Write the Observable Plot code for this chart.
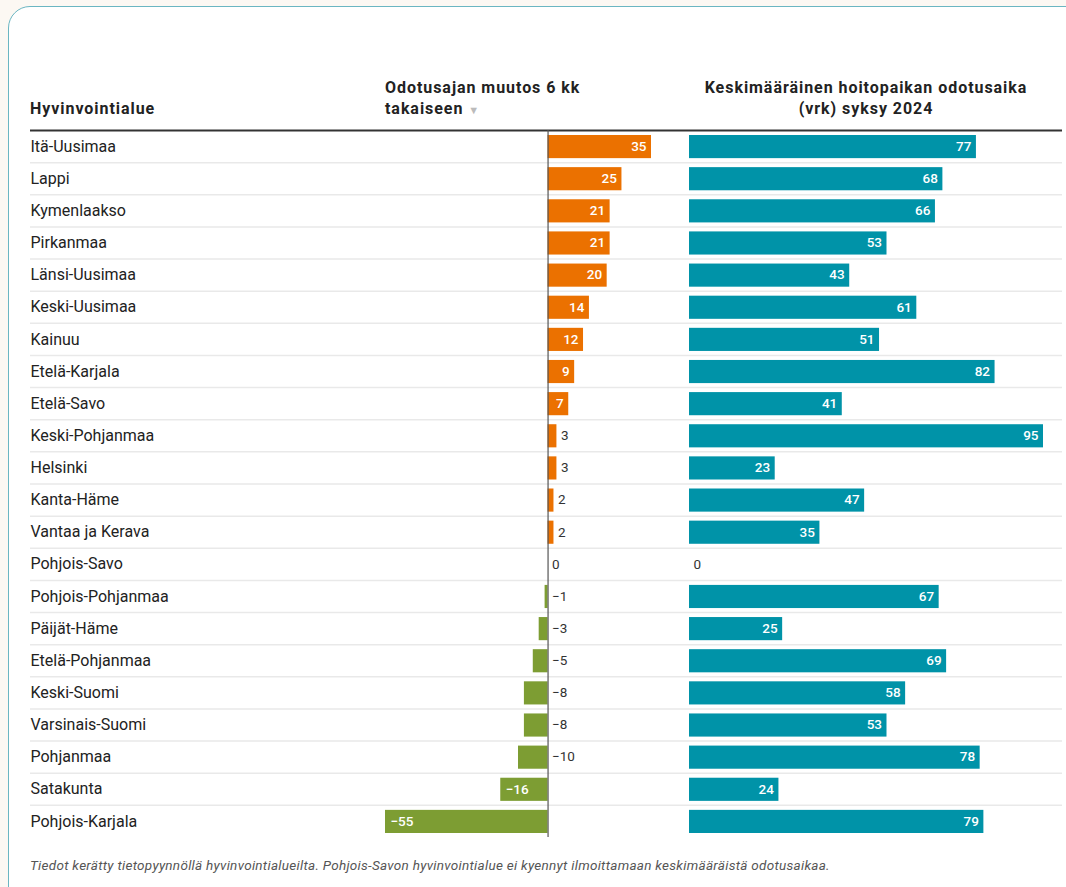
<!DOCTYPE html>
<html>
<head>
<meta charset="utf-8">
<script src="https://cdn.jsdelivr.net/npm/d3@7"></script>
<script src="https://cdn.jsdelivr.net/npm/@observablehq/plot@0.6"></script>
<style>
  html, body { margin: 0; padding: 0; background: #fcf8f3; font-family: Roboto, "Noto Sans", sans-serif; }
  #wrap { position: relative; width: 1066px; height: 887px; overflow: hidden; }
  #card { position: absolute; left: 8px; top: 6px; width: 1120px; height: 1000px; border: 1.5px solid #6bb6c2; border-radius: 22px; background: #fff; }
  .abs { position: absolute; }
  .hdr { font-size: 16px; font-weight: 700; color: #222; line-height: 21px; letter-spacing: 0.95px; white-space: nowrap; }
  .abs svg { overflow: visible; }
  #foot { left: 30px; top: 857px; font-size: 13.5px; letter-spacing: 0.28px; font-style: italic; color: #555; white-space: nowrap; }
</style>
</head>
<body>
<div id="wrap">
  <div id="card"></div>
  <div class="abs hdr" style="left:30px; top:98px;">Hyvinvointialue</div>
  <div class="abs hdr" style="left:385px; top:77px; width:260px;">Odotusajan muutos 6 kk<br>takaiseen <span style="color:#bbb; font-size:11px;">▼</span></div>
  <div class="abs hdr" style="left:669px; top:77px; width:394px; text-align:center;">Keskimääräinen hoitopaikan odotusaika<br>(vrk) syksy 2024</div>
  <div class="abs" id="pA" style="left:30px; top:128px;"></div>
  <div class="abs" id="pB" style="left:380px; top:128px;"></div>
  <div class="abs" id="pC" style="left:684px; top:128px;"></div>
  <div class="abs" id="foot">Tiedot kerätty tietopyynnöllä hyvinvointialueilta. Pohjois-Savon hyvinvointialue ei kyennyt ilmoittamaan keskimääräistä odotusaikaa.</div>
</div>
<script>
const names = ["Itä-Uusimaa","Lappi","Kymenlaakso","Pirkanmaa","Länsi-Uusimaa","Keski-Uusimaa","Kainuu","Etelä-Karjala","Etelä-Savo","Keski-Pohjanmaa","Helsinki","Kanta-Häme","Vantaa ja Kerava","Pohjois-Savo","Pohjois-Pohjanmaa","Päijät-Häme","Etelä-Pohjanmaa","Keski-Suomi","Varsinais-Suomi","Pohjanmaa","Satakunta","Pohjois-Karjala"];
const change = [35,25,21,21,20,14,12,9,7,3,3,2,2,0,-1,-3,-5,-8,-8,-10,-16,-55];
const waitDays = [77,68,66,53,43,61,51,82,41,95,23,47,35,0,67,25,69,58,53,78,24,79];

const ORANGE = "#eb7100", GREEN = "#7d9d33", TEAL = "#0093a8", DARK = "#333";
const n = names.length;
const rows = names.map((name, i) => ({name, i, change: change[i], wait: waitDays[i]}));
const fmt = v => v < 0 ? "\u2212" + Math.abs(v) : String(v);
const H = 709, MT = 2;
const common = {height: H, marginTop: MT, marginBottom: 0, style: {fontFamily: "Roboto, sans-serif", overflow: "visible", background: "transparent"}};
const yScale = {axis: null, domain: [0, n], reverse: true};

// Names + separators
const pA = Plot.plot({
  ...common, width: 1032, marginLeft: 0, marginRight: 0,
  x: {axis: null, domain: [0, 1]},
  y: yScale,
  marks: [
    Plot.ruleY(d3.range(1, n), {stroke: "#e9e9e9", strokeWidth: 1.5}),
    Plot.ruleY([0], {stroke: "#333", strokeWidth: 2}),
    Plot.text(rows, {y: d => d.i + 0.5, text: "name", frameAnchor: "left", textAnchor: "start", fontSize: 16, fill: "#222"})
  ]
});
document.getElementById("pA").append(pA);

function fits(scale, v) {
  const barPx = Math.abs(scale.apply(v) - scale.apply(0));
  return barPx > fmt(v).length * 7 + 10;
}

// Change chart
const domB = [d3.min(change), d3.max(change)];
const wB = 281, mlB = 5, mrB = 10;
const xB = Plot.scale({x: {domain: domB, range: [mlB, wB - mrB]}});
const pB = Plot.plot({
  ...common, width: wB, marginLeft: mlB, marginRight: mrB,
  x: {axis: null, domain: domB},
  y: yScale,
  marks: [
    Plot.rectX(rows.filter(d => d.change > 0), {x1: 0, x2: "change", y1: "i", y2: d => d.i + 1, fill: ORANGE, insetTop: 5, insetBottom: 4}),
    Plot.rectX(rows.filter(d => d.change < 0), {x1: 0, x2: "change", y1: "i", y2: d => d.i + 1, fill: GREEN, insetTop: 5, insetBottom: 4}),
    Plot.ruleX([0], {stroke: "#555", strokeWidth: 1.2}),
    Plot.text(rows.filter(d => d.change > 0 && fits(xB, d.change)), {x: "change", y: d => d.i + 0.5, text: d => fmt(d.change), textAnchor: "end", dx: -5, fill: "#fff", fontSize: 13.5, fontWeight: 500}),
    Plot.text(rows.filter(d => d.change < 0 && fits(xB, d.change)), {x: "change", y: d => d.i + 0.5, text: d => fmt(d.change), textAnchor: "start", dx: 5, fill: "#fff", fontSize: 13.5, fontWeight: 500}),
    Plot.text(rows.filter(d => !fits(xB, d.change)), {x: d => Math.max(d.change, 0), y: d => d.i + 0.5, text: d => fmt(d.change), textAnchor: "start", dx: 4, fill: DARK, fontSize: 13.5})
  ]
});
document.getElementById("pB").append(pB);

// Wait chart
const domC = [0, d3.max(waitDays)];
const wC = 374, mlC = 5, mrC = 15;
const xC = Plot.scale({x: {domain: domC, range: [mlC, wC - mrC]}});
const pC = Plot.plot({
  ...common, width: wC, marginLeft: mlC, marginRight: mrC,
  x: {axis: null, domain: domC},
  y: yScale,
  marks: [
    Plot.rectX(rows.filter(d => d.wait > 0), {x1: 0, x2: "wait", y1: "i", y2: d => d.i + 1, fill: TEAL, insetTop: 5, insetBottom: 4}),
    Plot.text(rows.filter(d => fits(xC, d.wait)), {x: "wait", y: d => d.i + 0.5, text: d => fmt(d.wait), textAnchor: "end", dx: -5, fill: "#fff", fontSize: 13.5, fontWeight: 500}),
    Plot.text(rows.filter(d => !fits(xC, d.wait)), {x: "wait", y: d => d.i + 0.5, text: d => fmt(d.wait), textAnchor: "start", dx: 4, fill: DARK, fontSize: 13.5})
  ]
});
document.getElementById("pC").append(pC);
</script>
</body>
</html>
